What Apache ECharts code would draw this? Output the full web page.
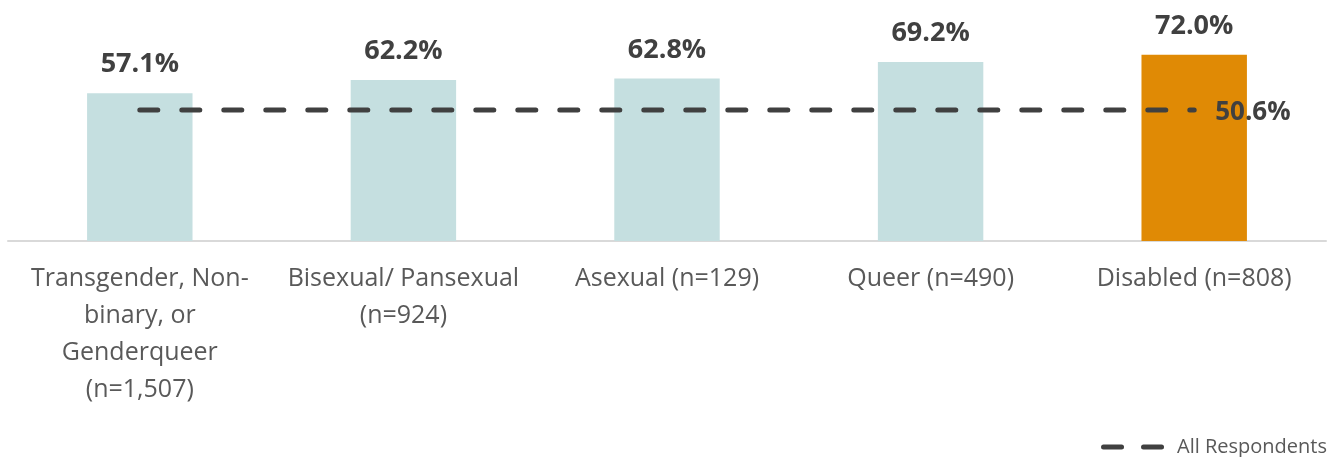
<!DOCTYPE html>
<html>
<head>
<meta charset="utf-8">
<script src="https://cdn.jsdelivr.net/npm/echarts@6/dist/echarts.min.js"></script>
<style>html,body{margin:0;padding:0;background:#fff}#c{width:1344px;height:457px}</style>
</head>
<body>
<div id="c"></div>
<script>
var categories = ['Transgender, Non-\nbinary, or\nGenderqueer\n(n=1,507)', 'Bisexual/ Pansexual\n(n=924)', 'Asexual (n=129)', 'Queer (n=490)', 'Disabled (n=808)'];
var groupValues = [57.1, 62.2, 62.8, 69.2, 72.0];
var allRespondents = [50.6, 50.6, 50.6, 50.6, 50.6];
var barColors = ['#c5dfe0', '#c5dfe0', '#c5dfe0', '#c5dfe0', '#e08a05'];
var lineName = 'All Respondents';

var FONT = '"Open Sans", sans-serif';
var chart = echarts.init(document.getElementById('c'), null, {renderer: 'canvas'});
chart.setOption({
  animation: false,
  textStyle: {fontFamily: FONT},
  grid: {left: 8, right: 18, top: 34, bottom: 216, containLabel: false},
  legend: {
    data: [{name: lineName, icon: 'path://M2.5,0H20.5A2.5,2.5 0 0 1 20.5,5H2.5A2.5,2.5 0 0 1 2.5,0ZM42.5,0H60.5A2.5,2.5 0 0 1 60.5,5H42.5A2.5,2.5 0 0 1 42.5,0Z'}],
    right: 12, top: 432, itemWidth: 63, itemHeight: 5, itemGap: 10,
    textStyle: {fontSize: 20, color: '#595959', fontFamily: FONT, padding: [0, 0, 0, 8]}
  },
  xAxis: {
    type: 'category', data: categories,
    axisLine: {lineStyle: {color: '#d9d9d9', width: 2}},
    axisTick: {show: false},
    axisLabel: {interval: 0, fontSize: 25, color: '#595959', lineHeight: 37, margin: 19, fontFamily: FONT}
  },
  yAxis: {type: 'value', min: 0, max: 80, show: false, splitLine: {show: false}},
  series: [
    {
      type: 'bar', name: 'Groups', barWidth: '40%',
      data: groupValues.map(function (v, i) { return {value: v, itemStyle: {color: barColors[i]}}; }),
      label: {show: true, position: 'top', distance: 15, fontSize: 27, fontWeight: 'bold', color: '#404040',
        fontFamily: FONT, formatter: function (p) { return p.value.toFixed(1) + '%'; }}
    },
    {
      type: 'line', name: lineName, data: allRespondents, symbol: 'none', z: 5,
      lineStyle: {color: '#404040', width: 5, type: [18, 24], cap: 'round'},
      itemStyle: {color: '#404040'},
      endLabel: {show: true, distance: 21, offset: [0, 3], fontSize: 26, fontWeight: 'bold', color: '#404040', fontFamily: FONT,
        formatter: function (p) { return p.value.toFixed(1) + '%'; }}
    }
  ]
});
</script>
</body>
</html>
